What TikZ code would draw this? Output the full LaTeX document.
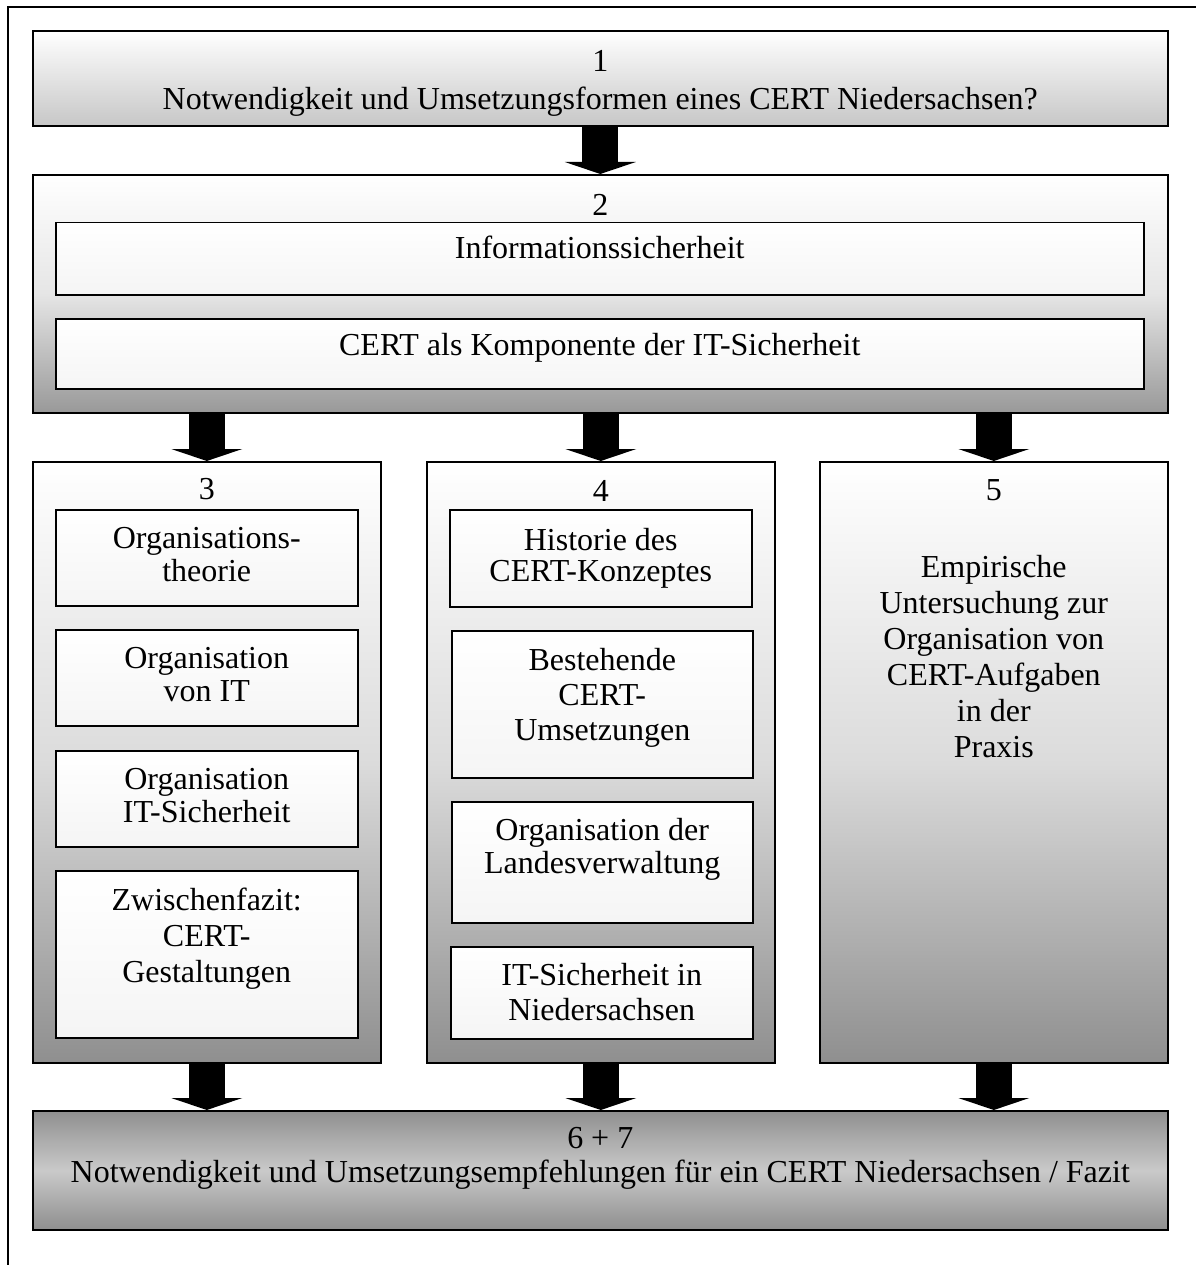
\documentclass[tikz,border=0pt]{standalone}
\usepackage{fontspec}
\setmainfont{Liberation Serif}
\usetikzlibrary{arrows.meta}
\usetikzlibrary{shadows}

\tikzset{
  chapbox/.style={draw, line width=1.6pt, inner sep=0pt, anchor=north west,
    drop shadow={shadow xshift=1.3pt, shadow yshift=-1.3pt, fill=black!60, opacity=1}},
  subbox/.style={chapbox, line width=1.5pt, top color=white, bottom color=black!4},
  txt/.style={anchor=north, inner sep=0pt, align=center},
  bigarrow/.style={line width=36pt, -{Triangle[width=71pt, length=12pt, line width=0pt]}}
}

\begin{document}
\begin{tikzpicture}[x=1pt, y=-1pt, font=\fontsize{32}{33}\selectfont]
\useasboundingbox (0,0) rectangle (1195,1265);
\draw[line width=2pt] (8,1275) -- (8,7) -- (1205,7);

\node[chapbox, minimum width=1135pt, minimum height=95pt, top color=white, bottom color=black!22] (k1) at (32,30) {};
\node[txt, font=\fontsize{32}{38}\selectfont, yshift=-20pt] (t1) at (k1.north) {1\\Notwendigkeit und Umsetzungsformen eines CERT Niedersachsen?};

\node[chapbox, minimum width=1135pt, minimum height=238pt, top color=white, bottom color=black!40, middle color=black!10] (k2) at (32,174) {};
\node[txt, yshift=-20pt] (t2) at (k2.north) {2};
\node[subbox, minimum width=1088pt, minimum height=72pt] (k2a) at (55,222) {};
\node[txt, yshift=-14pt] (t2a) at (k2a.north) {Informationssicherheit};
\node[subbox, minimum width=1088pt, minimum height=70pt] (k2b) at (55,318) {};
\node[txt, yshift=-15pt] (t2b) at (k2b.north) {CERT als Komponente der IT-Sicherheit};

\node[chapbox, minimum width=348pt, minimum height=601pt, top color=white, bottom color=black!44, middle color=black!14] (k3) at (32,461) {};
\node[txt, yshift=-17pt] (t3) at (k3.north) {3};
\node[subbox, minimum width=302pt, minimum height=96pt] (k3a) at (55,509) {};
\node[txt, yshift=-18pt] (t3a) at (k3a.north) {Organisations-\\theorie};
\node[subbox, minimum width=302pt, minimum height=96pt] (k3b) at (55,629) {};
\node[txt, yshift=-18pt] (t3b) at (k3b.north) {Organisation\\von IT};
\node[subbox, minimum width=302pt, minimum height=96pt] (k3c) at (55,750) {};
\node[txt, yshift=-18pt] (t3c) at (k3c.north) {Organisation\\IT-Sicherheit};
\node[subbox, minimum width=302pt, minimum height=167pt] (k3d) at (55,870) {};
\node[txt, font=\fontsize{32}{36}\selectfont, yshift=-18pt] (t3d) at (k3d.north) {Zwischenfazit:\\CERT-\\Gestaltungen};

\node[chapbox, minimum width=348pt, minimum height=601pt, top color=white, bottom color=black!44, middle color=black!14] (k4) at (426,461) {};
\node[txt, yshift=-19pt] (t4) at (k4.north) {4};
\node[subbox, minimum width=302pt, minimum height=97pt] (k4a) at (449,509) {};
\node[txt, font=\fontsize{32}{31}\selectfont, yshift=-19pt] (t4a) at (k4a.north) {Historie des\\CERT-Konzeptes};
\node[subbox, minimum width=301pt, minimum height=147pt] (k4b) at (451,630) {};
\node[txt, font=\fontsize{32}{35}\selectfont, yshift=-18pt] (t4b) at (k4b.north) {Bestehende\\CERT-\\Umsetzungen};
\node[subbox, minimum width=301pt, minimum height=121pt] (k4c) at (451,801) {};
\node[txt, yshift=-17pt] (t4c) at (k4c.north) {Organisation der\\Landesverwaltung};
\node[subbox, minimum width=302pt, minimum height=92pt] (k4d) at (450,946) {};
\node[txt, font=\fontsize{32}{35}\selectfont, yshift=-17pt] (t4d) at (k4d.north) {IT-Sicherheit in\\Niedersachsen};

\node[chapbox, minimum width=348pt, minimum height=601pt, top color=white, bottom color=black!44, middle color=black!14] (k5) at (819,461) {};
\node[txt, yshift=-18pt] (t5) at (k5.north) {5};
\node[txt, font=\fontsize{32}{36}\selectfont, yshift=-94pt] (t5a) at (k5.north) {Empirische\\Untersuchung zur\\Organisation von\\CERT-Aufgaben\\in der\\Praxis};

\node[chapbox, minimum width=1135pt, minimum height=119pt, top color=black!44, bottom color=black!44, middle color=black!21] (k6) at (32,1110) {};
\node[txt, font=\fontsize{32}{34}\selectfont, yshift=-17pt] (t6) at (k6.north) {6 + 7\\Notwendigkeit und Umsetzungsempfehlungen für ein CERT Niedersachsen / Fazit};

\draw[bigarrow] (k1.south) -- (k2.north);
\foreach \c in {k3,k4,k5} {
  \draw[bigarrow] (k2.south -| \c) -- (\c.north);
  \draw[bigarrow] (\c.south) -- (\c.south |- k6.north);
}
\end{tikzpicture}
\end{document}
